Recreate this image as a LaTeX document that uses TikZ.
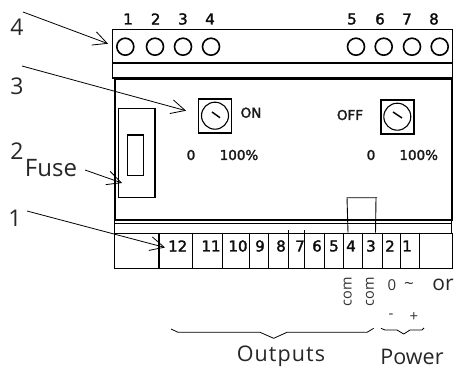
\documentclass[tikz,border=0pt]{standalone}
\usepackage{fontspec}
\setmainfont{Open Sans}
\newfontfamily\smfont[FakeBold=2]{DejaVu Sans}
\usetikzlibrary{arrows.meta}
\tikzset{
  lbl/.style={inner sep=0pt,font=\fontsize{23}{23}\selectfont,text=black!85},
  small/.style={inner sep=0pt,font=\smfont\fontsize{13.5}{13.5}\selectfont,text=black!90},
  smallb/.style={inner sep=0pt,font=\smfont\fontsize{15}{15}\selectfont,text=black!95},
  mid/.style={inner sep=0pt,font=\fontsize{15}{15}\selectfont,text=black!80},
  hole/.style={circle,draw,line width=1.6pt,minimum size=17pt,inner sep=0pt},
  knobbox/.style={draw,line width=1.7pt,minimum width=33pt,minimum height=34pt,inner sep=0pt},
  dial/.style={circle,draw,line width=1.1pt,minimum size=27pt,inner sep=0pt},
  pointer/.style={line width=1.4pt},
  casing/.style={line width=1.4pt},
  heavy/.style={line width=2pt},
  thin line/.style={line width=.9pt},
  leader/.style={line width=.8pt,-{Straight Barb[length=14pt,width=14pt,line width=.8pt]}},
  bracket/.style={line width=.8pt}
}
\begin{document}
\begin{tikzpicture}[x=1pt,y=-1pt]
\useasboundingbox (0,0) rectangle (454,369);
% casing
\node[draw,casing,minimum width=340pt,minimum height=49pt,inner sep=0pt,anchor=north west] (top) at (112,29) {};
\draw[casing] (112,63) -- (452,63);
\node[draw,heavy,minimum width=337pt,minimum height=141pt,inner sep=0pt,anchor=north west] (body) at (114,78) {};
\draw[heavy] (112,78) -- (452,78);
\draw[thin line] (114,223) -- (452,223);
\draw[thin line] (114,219) -- (114,233) (451.5,219) -- (451.5,233);
\node[draw,casing,minimum width=338.5pt,minimum height=35pt,inner sep=0pt,anchor=north west] (row) at (113.5,232.7) {};
% top terminals
\foreach \n/\x/\lx in {1/125.3/128,2/155/155.7,3/183/183,4/211/210,5/356/352,6/383.7/380,7/412/407,8/439.7/434}{
  \node[hole] (h\n) at (\x,46.7) {};
  \node[smallb] (t\n) at (\lx,19) {\n};
}
% knobs
\node[knobbox] (k1) at (215,115.7) {};
\node[dial] (d1) at (215,115.7) {};
\coordinate (p1a) at (212,112); \coordinate (p1b) at (220,117.7);
\draw[pointer] (p1a) -- (p1b);
\node[knobbox] (k2) at (397.3,116.7) {};
\node[dial] (d2) at (397.3,116.7) {};
\coordinate (p2a) at (393,112); \coordinate (p2b) at (402,118);
\draw[pointer] (p2a) -- (p2b);
\node[small] (on) at (251,112.7) {ON};
\node[small] (off) at (350,115) {OFF};
\node[small] (z1) at (191,155) {0};
\node[small] (c1) at (239,155) {100\%};
\node[small] (z2) at (371,155) {0};
\node[small] (c2) at (418.7,155) {100\%};
% fuse
\node[draw,casing,minimum width=36.7pt,minimum height=89pt,inner sep=0pt] (fuse) at (136.7,152.8) {};
\node[draw,casing,minimum width=15.6pt,minimum height=40.7pt,inner sep=0pt] (fusein) at (135.5,155.3) {};
% terminal row dividers
\draw[line width=1.6pt] (159,232.7) -- (159,267.7);
\foreach \x/\a in {192.7/232.7,222.7/232.7,249.7/232.7,268.7/232.7,288/230,304.7/230,324.3/232.7,343/232.7,362/232.7,382.3/232.7,400.7/232.7,419.7/232.7}{
  \draw[thin line] (\x,\a) -- (\x,267.7);
}
\foreach \n/\x in {12/177.7,11/211,10/238,9/260,8/281,7/300,6/317,5/334,4/351,3/371,2/390,1/407}{
  \node[smallb] (b\n) at (\x,246) {\n};
}
% jumper
\coordinate (j1) at (348,232.7); \coordinate (j2) at (347,197.7);
\coordinate (j3) at (377,197.7); \coordinate (j4) at (375.5,232.7);
\draw[thin line] (j1) -- (j2) -- (j3);
\draw[thin line] (376,197.7) -- (j4);
% leaders
\node[lbl] (n4) at (17,27) {4};
\node[lbl] (n3) at (17,86) {3};
\node[lbl] (n2) at (17,151) {2};
\node[lbl] (n1) at (15,218) {1};
\node[lbl,font=\fontsize{24}{24}\selectfont] (fz) at (51,168) {Fuse};
\coordinate (a4) at (23,12); \coordinate (b4) at (108,43.7);
\coordinate (a3) at (22,66); \coordinate (b3) at (186,110.7);
\coordinate (a2) at (85,170); \coordinate (b2) at (122,183);
\coordinate (a1) at (27,211); \coordinate (b1) at (165,247.5);
\draw[leader] (a4) -- (b4);
\draw[leader] (a3) -- (b3);
\draw[leader] (a2) -- (b2);
\draw[leader] (a1) -- (b1);
% lower labels
\node[mid,rotate=90,font=\fontsize{14.5}{14.5}\selectfont] (com1) at (347.7,291.7) {com};
\node[mid,rotate=90,font=\fontsize{14.5}{14.5}\selectfont] (com2) at (370,291.7) {com};
\node[mid] (zero) at (392,285.5) {0};
\node[mid,font=\fontsize{17}{17}\selectfont] (tilde) at (409,285.5) {\textasciitilde};
\node[lbl,font=\fontsize{21}{21}\selectfont] (or) at (443,285) {or};
\node[mid] (minus) at (391,316.7) {-};
\node[mid] (plus) at (414,316.7) {+};
% brackets
\coordinate (o0) at (171,329); \coordinate (o1) at (178,332.3); \coordinate (o2) at (260,332.3);
\coordinate (o3) at (273.7,338.3); \coordinate (o4) at (287,332.3); \coordinate (o5) at (367,332.3); \coordinate (o6) at (373.7,328.3);
\draw[bracket] (o0) -- (o1) -- (o2) -- (o3) -- (o4) -- (o5) -- (o6);
\coordinate (q0) at (381,328.3); \coordinate (q1) at (385,330); \coordinate (q2) at (397,330);
\coordinate (q3) at (403.7,334); \coordinate (q4) at (410,330); \coordinate (q5) at (422,330); \coordinate (q6) at (424,328);
\draw[bracket] (q0) -- (q1) -- (q2) -- (q3) -- (q4) -- (q5) -- (q6);
\node[lbl,font=\fontsize{21.5}{21.5}\selectfont\addfontfeatures{LetterSpace=5}] (outp) at (281,356.5) {Outputs};
\node[lbl,font=\fontsize{21.5}{21.5}\selectfont] (powr) at (412,356.5) {Power};
\end{tikzpicture}
\end{document}
